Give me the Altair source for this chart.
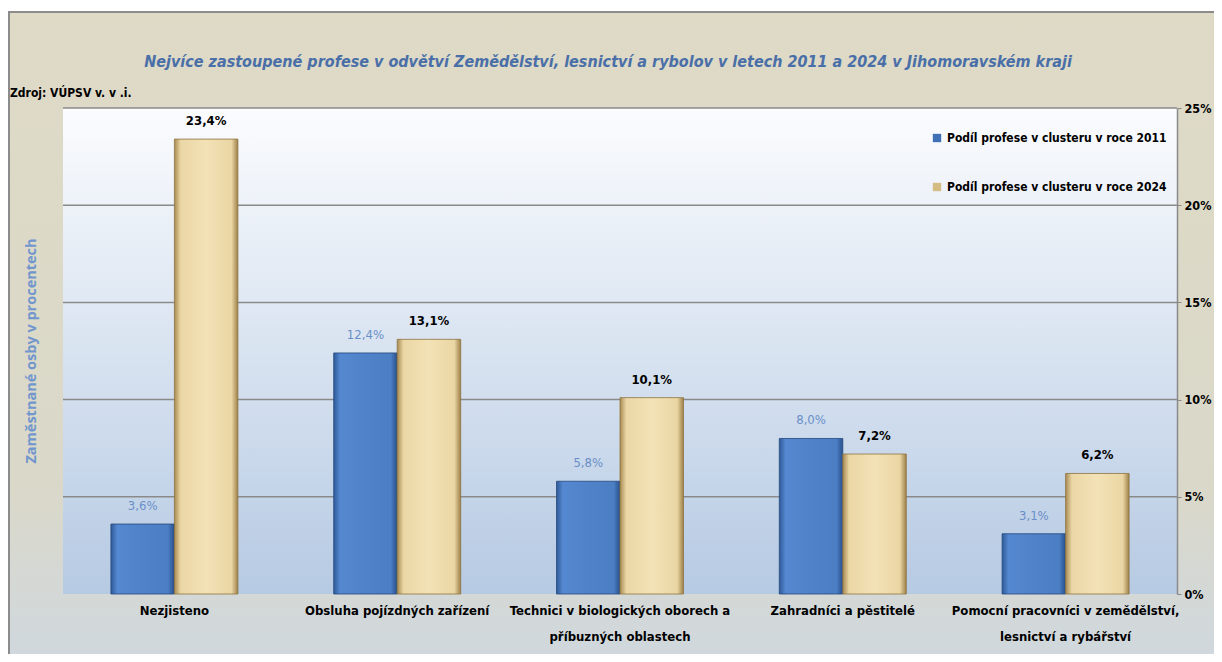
import altair as alt
import pandas as pd

categories = [
    "Nezjisteno",
    "Obsluha pojízdných zařízení",
    "Technici v biologických oborech a\npříbuzných oblastech",
    "Zahradníci a pěstitelé",
    "Pomocní pracovníci v zemědělství,\nlesnictví a rybářství",
]
values_2011 = [3.6, 12.4, 5.8, 8.0, 3.1]
values_2024 = [23.4, 13.1, 10.1, 7.2, 6.2]
series = ["Podíl profese v clusteru v roce 2011", "Podíl profese v clusteru v roce 2024"]
y_ticks = [0, 5, 10, 15, 20, 25]
grid_ticks = [5, 10, 15, 20, 25]

title_text = "Nejvíce zastoupené profese v odvětví Zemědělství, lesnictví a rybolov v letech 2011 a 2024  v Jihomoravském kraji"
source_text = "Zdroj: VÚPSV v. v .i."
ytitle_text = "Zaměstnané osby v procentech"

rows = []
for c, a, b in zip(categories, values_2011, values_2024):
    rows.append({"cat": c, "series": series[0], "v": a})
    rows.append({"cat": c, "series": series[1], "v": b})
df = pd.DataFrame(rows)
grid_df = pd.DataFrame({"v": grid_ticks})

W, H = 1114, 486
FONT = "DejaVu Sans Condensed, Liberation Sans, sans-serif"


def grad(stops, horizontal=True):
    return alt.LinearGradient(
        gradient="linear",
        stops=[alt.GradientStop(offset=o, color=c) for o, c in stops],
        x1=0, x2=1 if horizontal else 0, y1=0, y2=0 if horizontal else 1,
    )


blue_grad = grad([(0, "#2F5A98"), (0.1, "#5488D0"), (0.5, "#4F82C8"), (0.9, "#4C7EC4"), (1, "#27508C")])
gold_grad = grad([(0, "#A88A52"), (0.1, "#EBD7A6"), (0.5, "#F3E2B6"), (0.9, "#EAD6A4"), (1, "#9E8048")])
plot_grad = grad([(0, "#FBFCFE"), (1, "#B6CAE3")], horizontal=False)
bg_grad = grad([(0, "#DEDAC6"), (0.72, "#DAD8C9"), (1, "#CFD8E0")], horizontal=False)

one = alt.Data(values=[{}])

bg = alt.Chart(one).mark_rect(fill=bg_grad, stroke="#8C8C8C", strokeWidth=2).encode(
    x=alt.value(-54), x2=alt.value(W + 60), y=alt.value(-96), y2=alt.value(H + 80)
)
plotbg = alt.Chart(one).mark_rect(fill=plot_grad).encode(
    x=alt.value(0), x2=alt.value(W), y=alt.value(0), y2=alt.value(H)
)

x_enc = alt.X(
    "cat:N", sort=categories,
    scale=alt.Scale(paddingInner=0.43, paddingOuter=0.215),
    axis=alt.Axis(
        title=None, labelExpr="split(datum.value, '\\n')", labelAngle=0,
        labelFont=FONT, labelFontSize=13, labelFontWeight="bold", labelColor="black",
        labelPadding=10, labelLineHeight=26, domain=False, ticks=False, labelLimit=400,
        grid=False, zindex=1,
    ),
)
y_scale = alt.Scale(domain=[0, 25])
y_axis = alt.Axis(
    orient="right", values=y_ticks, labelExpr="datum.value + '%'", title=None,
    grid=False, domainColor="#8A8A8A", domainWidth=1.5,
    tickColor="#8A8A8A", tickSize=4, labelFont=FONT, labelFontSize=12.5,
    labelFontWeight="bold", labelColor="black", labelPadding=3, zindex=1,
)
y_enc = alt.Y("v:Q", scale=y_scale, axis=y_axis)
xo = alt.XOffset("series:N", scale=alt.Scale(domain=series, paddingInner=0))

gridlines = alt.Chart(grid_df).mark_rule(color="#8A8A8A", strokeWidth=1.5).encode(
    y=alt.Y("v:Q", scale=y_scale, axis=y_axis)
)

base = alt.Chart(df).transform_calculate(
    label="replace(format(datum.v, '.1f'), '.', ',') + '%'"
)

blue = base.transform_filter(alt.datum.series == series[0]).mark_bar(
    fill=blue_grad, stroke="#24487E", strokeWidth=0.8
).encode(x=x_enc, y=y_enc, xOffset=xo)
gold = base.transform_filter(alt.datum.series == series[1]).mark_bar(
    fill=gold_grad, stroke="#8E7440", strokeWidth=0.8
).encode(x=x_enc, y=y_enc, xOffset=xo)

blue_txt = base.transform_filter(alt.datum.series == series[0]).mark_text(
    baseline="middle", dy=-18, font=FONT, fontSize=13, color="#6A8FC8"
).encode(x=x_enc, y=y_enc, xOffset=xo, text="label:N")
gold_txt = base.transform_filter(alt.datum.series == series[1]).mark_text(
    baseline="middle", dy=-18, font=FONT, fontSize=13, fontWeight="bold", color="black"
).encode(x=x_enc, y=y_enc, xOffset=xo, text="label:N")

legend_layer = base.mark_square(opacity=0).encode(
    x=x_enc, y=y_enc, xOffset=xo,
    color=alt.Color(
        "series:N",
        scale=alt.Scale(domain=series, range=["#3F6FB4", "#D4BC84"]),
        legend=alt.Legend(
            orient="none", legendX=868, legendY=24, title=None, symbolType="square",
            symbolSize=70, symbolOpacity=1, symbolStrokeWidth=0, labelFont=FONT,
            labelFontSize=12, labelFontWeight="bold", labelColor="black",
            rowPadding=37, labelLimit=400, labelOffset=4,
        ),
    ),
)

title_mark = alt.Chart(one).mark_text(
    text=title_text, font=FONT, fontSize=16, fontStyle="italic", fontWeight="bold",
    color="#4A6FA8", align="center", baseline="middle",
).encode(x=alt.value(545), y=alt.value(-46))
source_mark = alt.Chart(one).mark_text(
    text=source_text, font=FONT, fontSize=12, fontWeight="bold", color="black",
    align="left", baseline="middle",
).encode(x=alt.value(-53), y=alt.value(-15))
ytitle_mark = alt.Chart(one).mark_text(
    text=ytitle_text, font="Open Sans, DejaVu Sans, sans-serif", fontSize=14.5,
    fontWeight="bold", color="#7196CD", angle=270, align="center", baseline="middle",
).encode(x=alt.value(-31), y=alt.value(H / 2))

chart = alt.layer(
    bg, plotbg, gridlines, blue, gold, blue_txt, gold_txt, legend_layer,
    title_mark, source_mark, ytitle_mark,
).properties(
    width=W, height=H,
    autosize=alt.AutoSizeParams(type="none"),
    padding={"left": 55, "top": 100, "right": 37, "bottom": 60},
).configure_view(stroke=None).configure(background="white")

chart.save("out.html", embed_options={"renderer": "svg", "actions": False})
